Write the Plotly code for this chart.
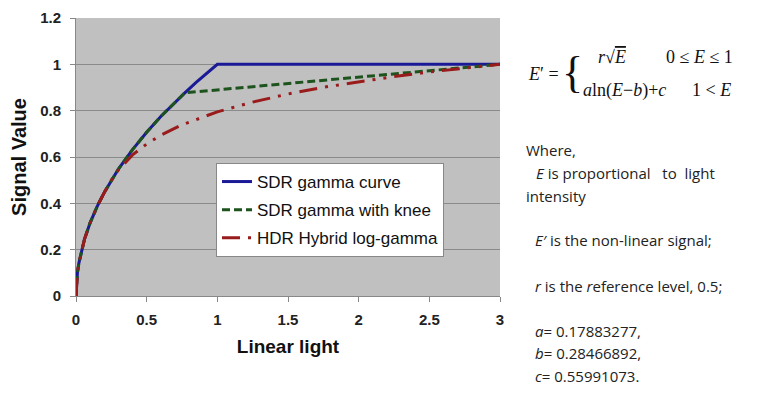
import plotly.graph_objects as go

# ---- data ----
sdr_x = [0, 0.005, 0.01, 0.02, 0.04, 0.06, 0.1, 0.15, 0.2, 0.25, 0.3, 0.4, 0.5, 0.6, 0.7, 0.77, 0.85, 0.9, 1.0, 3.0]
sdr_y = [0, 0.071, 0.1, 0.141, 0.2, 0.245, 0.316, 0.387, 0.447, 0.5, 0.548, 0.632, 0.707, 0.775, 0.837, 0.877, 0.922, 0.949, 1.0, 1.0]

knee_x = [0, 0.005, 0.01, 0.02, 0.04, 0.06, 0.1, 0.15, 0.2, 0.25, 0.3, 0.4, 0.5, 0.6, 0.7, 0.77, 3.0]
knee_y = [0, 0.071, 0.1, 0.141, 0.2, 0.245, 0.316, 0.387, 0.447, 0.5, 0.548, 0.632, 0.707, 0.775, 0.837, 0.877, 1.0]

hlg_x = [0, 0.005, 0.01, 0.02, 0.04, 0.06, 0.1, 0.15, 0.2, 0.25, 0.3, 0.35, 0.4, 0.5, 0.6, 0.75, 1.0, 1.25, 1.5, 1.75, 2.0, 2.25, 2.5, 2.75, 3.0]
hlg_y = [0, 0.071, 0.1, 0.141, 0.2, 0.245, 0.316, 0.387, 0.447, 0.5, 0.544, 0.579, 0.609, 0.656, 0.694, 0.739, 0.795, 0.837, 0.872, 0.901, 0.925, 0.947, 0.967, 0.984, 1.0]

series_names = ["SDR gamma curve", "SDR gamma with knee", "HDR Hybrid log-gamma"]
x_ticks = [0, 0.5, 1, 1.5, 2, 2.5, 3]
x_tick_text = ["0", "0.5", "1", "1.5", "2", "2.5", "3"]
y_ticks = [0, 0.2, 0.4, 0.6, 0.8, 1.0, 1.2]
y_tick_text = ["0", "0.2", "0.4", "0.6", "0.8", "1", "1.2"]

OFF = 8  # page body margin
W, H = 774 - OFF, 401 - OFF
L, R, T, B = 76, 500, 18, 296  # plot area in window pixels

fig = go.Figure()
fig.add_trace(go.Scatter(x=sdr_x, y=sdr_y, mode="lines", name=series_names[0], legendgroup="a",
                         line=dict(color="#1a1a96", width=3)))
fig.add_trace(go.Scatter(x=knee_x, y=knee_y, mode="lines", name=series_names[1], legendgroup="b",
                         line=dict(color="#1d531d", width=3, dash="8px,4px")))
fig.add_trace(go.Scatter(x=hlg_x, y=hlg_y, mode="lines", name=series_names[2], legendgroup="c",
                         line=dict(color="#9a1b1b", width=3, dash="18px,8px,3px,8px,3px,8px")))

def px(x):
    return (x - L) / (R - L)

def py(y):
    return (B - y) / (B - T)

ann = []
serif = dict(family="Liberation Serif, Times New Roman, serif", size=18, color="#111")
def A(text, x, y, font, xanchor="left"):
    ann.append(dict(text=text, x=px(x), y=py(y), xref="paper", yref="paper",
                    showarrow=False, xanchor=xanchor, yanchor="middle", font=font))

A("<i>E</i>′ =", 526, 74, serif)
A("{", 560, 72, dict(family="Liberation Serif, serif", size=44, color="#111", weight=300))
A("<i>r</i>√<span style='text-decoration:overline'><i>E</i></span>", 612, 57, serif, "center")
A("0 ≤ <i>E</i> ≤ 1", 664, 57, serif)
A("<i>a</i>ln(<i>E</i>−<i>b</i>)+<i>c</i>", 581, 90, serif)
A("1 < <i>E</i>", 690, 90, serif)

sans = dict(family="Open Sans, Liberation Sans, sans-serif", size=15, color="#222")
A("Where,", 524, 150, sans)
A("<i>E</i> is proportional&nbsp;&nbsp; to&nbsp; light", 534, 173, sans)
A("intensity", 524, 196, sans)
A("<i>E′</i> is the non-linear signal;", 533, 240, sans)
A("<i>r</i> is the <i>r</i>eference level, 0.5;", 533, 286, sans)
A("<i>a</i>= 0.17883277,", 533, 331, sans)
A("<i>b</i>= 0.28466892,", 533, 353, sans)
A("<i>c</i>= 0.55991073.", 533, 376, sans)

tickfont = dict(size=15, family="Liberation Sans, Arial", color="#222", weight="bold")
fig.update_layout(
    width=W, height=H,
    margin=dict(l=L - OFF, r=(774 - R), t=T - OFF, b=(401 - B), pad=0),
    paper_bgcolor="white", plot_bgcolor="#c0c0c0",
    font=dict(family="Liberation Sans, Arial, sans-serif", color="#111"),
    annotations=ann,
    legend=dict(x=px(216), y=py(163), xanchor="left", yanchor="top",
                bgcolor="white", bordercolor="#888", borderwidth=1,
                font=dict(size=17, family="Liberation Sans, Arial, sans-serif", color="#111"),
                tracegroupgap=3, itemwidth=30),
    xaxis=dict(range=[0, 3], tickvals=x_ticks, ticktext=x_tick_text, showgrid=False,
               zeroline=False, showline=True, linecolor="#888", linewidth=1,
               ticks="outside", ticklen=5, tickcolor="#888", automargin=False,
               ticklabelstandoff=5, tickfont=tickfont,
               title=dict(text="Linear light", font=dict(size=19, weight="bold"), standoff=12)),
    yaxis=dict(range=[0, 1.2], tickvals=y_ticks, ticktext=y_tick_text, showgrid=True,
               gridcolor="#8a8a8a", gridwidth=1, zeroline=False, showline=True,
               linecolor="#888", linewidth=1, ticks="outside", ticklen=5, tickcolor="#888",
               automargin=False, ticklabelstandoff=6, tickfont=tickfont,
               title=dict(text="Signal Value", font=dict(size=20, weight="bold"), standoff=10)),
)

fig.write_html("out.html")
